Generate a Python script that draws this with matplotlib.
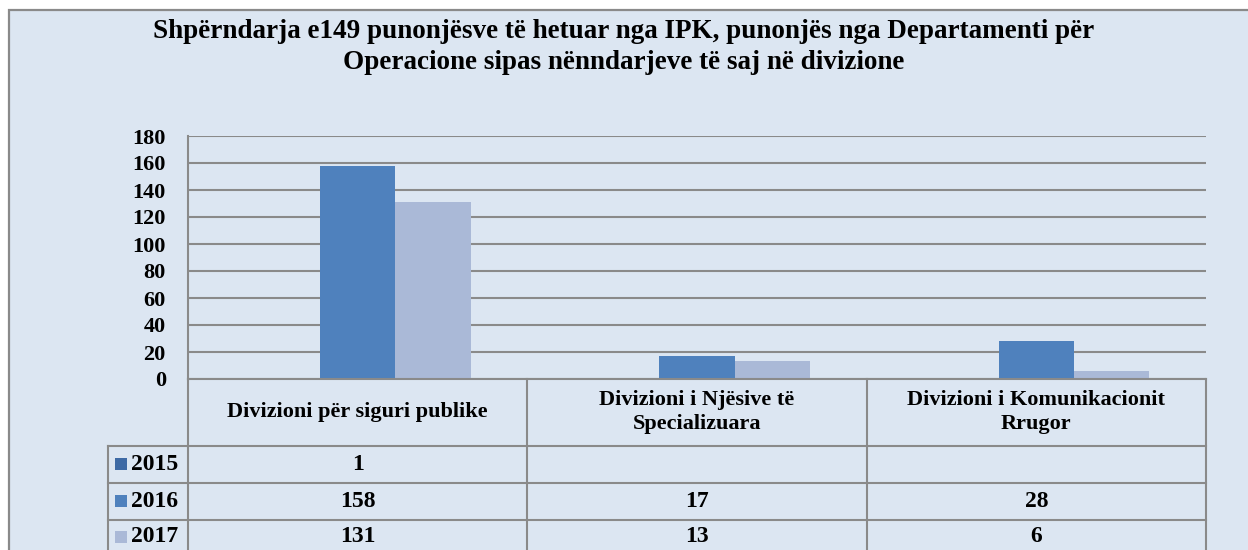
import matplotlib
matplotlib.use('Agg')
import matplotlib.pyplot as plt
import numpy as np
from matplotlib.patches import Rectangle
from matplotlib.lines import Line2D

# data
categories = ['Divizioni për siguri publike',
              'Divizioni i Njësive të\nSpecializuara',
              'Divizioni i Komunikacionit\nRrugor']
years = ['2015', '2016', '2017']
vals_2015 = [1, None, None]
vals_2016 = [158, 17, 28]
vals_2017 = [131, 13, 6]
series = [vals_2015, vals_2016, vals_2017]
yticks = [0, 20, 40, 60, 80, 100, 120, 140, 160, 180]
title = ('Shpërndarja e149 punonjësve të hetuar nga IPK, punonjës nga Departamenti për\n'
         'Operacione sipas nënndarjeve të saj në divizione')

colors = ['#3e6aa5', '#4f81bd', '#aab9d7']
BG = '#dce6f2'
LINE = '#8a8a8a'
FONT = ['Liberation Serif', 'DejaVu Serif']
plt.rcParams['font.family'] = FONT
plt.rcParams['font.weight'] = 'bold'
FS = 16

W, H = 1248, 550
fig = plt.figure(figsize=(W / 100, H / 100), dpi=100, facecolor='white')


def fx(x):
    return x / W


def fy(y):
    return 1 - y / H


# chart area background + border
fig.add_artist(Rectangle((fx(9), -0.05), 1.0, fy(10) + 0.05, transform=fig.transFigure,
                         facecolor=BG, edgecolor=LINE, lw=1.6, zorder=-10))

fig.text(fx(624), fy(47), title, ha='center', va='center', fontsize=19.5,
         fontweight='bold', linespacing=1.3)

# plot area
L, R, T, B = 188, 1206, 136, 379
ax = fig.add_axes([fx(L), fy(B), fx(R) - fx(L), fy(T) - fy(B)])
ax.set_facecolor('none')
n = len(categories)
x = np.arange(n)
w = 1 / 4.5
for i, vals in enumerate(series):
    v = [np.nan if a is None else a for a in vals]
    ax.bar(x + (i - 1) * w, v, width=w, color=colors[i], zorder=2)
ax.set_xlim(-0.5, n - 0.5)
ax.set_ylim(0, 180)
ax.set_yticks(yticks)
ax.set_xticks([])
ax.yaxis.grid(True, color=LINE, lw=1.5)
ax.set_axisbelow(True)
for s in ['top', 'right']:
    ax.spines[s].set_visible(False)
for s in ['left', 'bottom']:
    ax.spines[s].set_color(LINE)
    ax.spines[s].set_linewidth(1.5)
    ax.spines[s].set_zorder(3)
ax.tick_params(axis='y', length=0, pad=16, labelsize=16)
for lab in ax.get_yticklabels():
    lab.set_fontweight('bold')

# data table below the plot
col_w = (R - L) / n
row_edges = [B, 445.7, 482.7, 520, 560]
lab_left = 108


def hline(y, x0, x1):
    fig.add_artist(Line2D([fx(x0), fx(x1)], [fy(y), fy(y)], color=LINE, lw=1.5,
                          transform=fig.transFigure))


def vline(x0, y0, y1):
    fig.add_artist(Line2D([fx(x0), fx(x0)], [fy(y0), fy(y1)], color=LINE, lw=1.5,
                          transform=fig.transFigure))


for y in row_edges[1:4]:
    hline(y, lab_left, R)
for k in range(n + 1):
    vline(L + k * col_w, B, 560)
vline(lab_left, row_edges[1], 560)

hy = (row_edges[0] + row_edges[1]) / 2
for k, cat in enumerate(categories):
    fig.text(fx(L + (k + 0.5) * col_w), fy(hy), cat, ha='center', va='center',
             fontsize=FS, fontweight='bold', linespacing=1.25)

for i, (yr, vals) in enumerate(zip(years, series)):
    cy = (row_edges[i + 1] + row_edges[i + 2]) / 2
    if i == 2:
        cy = 537
    fig.add_artist(Rectangle((fx(115), fy(cy + 6)), fx(12), 12 / H,
                             transform=fig.transFigure, facecolor=colors[i], lw=0))
    fig.text(fx(131), fy(cy), yr, ha='left', va='center', fontsize=FS + 1, fontweight='bold')
    for k, v in enumerate(vals):
        if v is not None:
            fig.text(fx(L + (k + 0.5) * col_w), fy(cy), str(v), ha='center', va='center',
                     fontsize=FS + 1, fontweight='bold')

fig.savefig('out.png', dpi=100, facecolor='white')
